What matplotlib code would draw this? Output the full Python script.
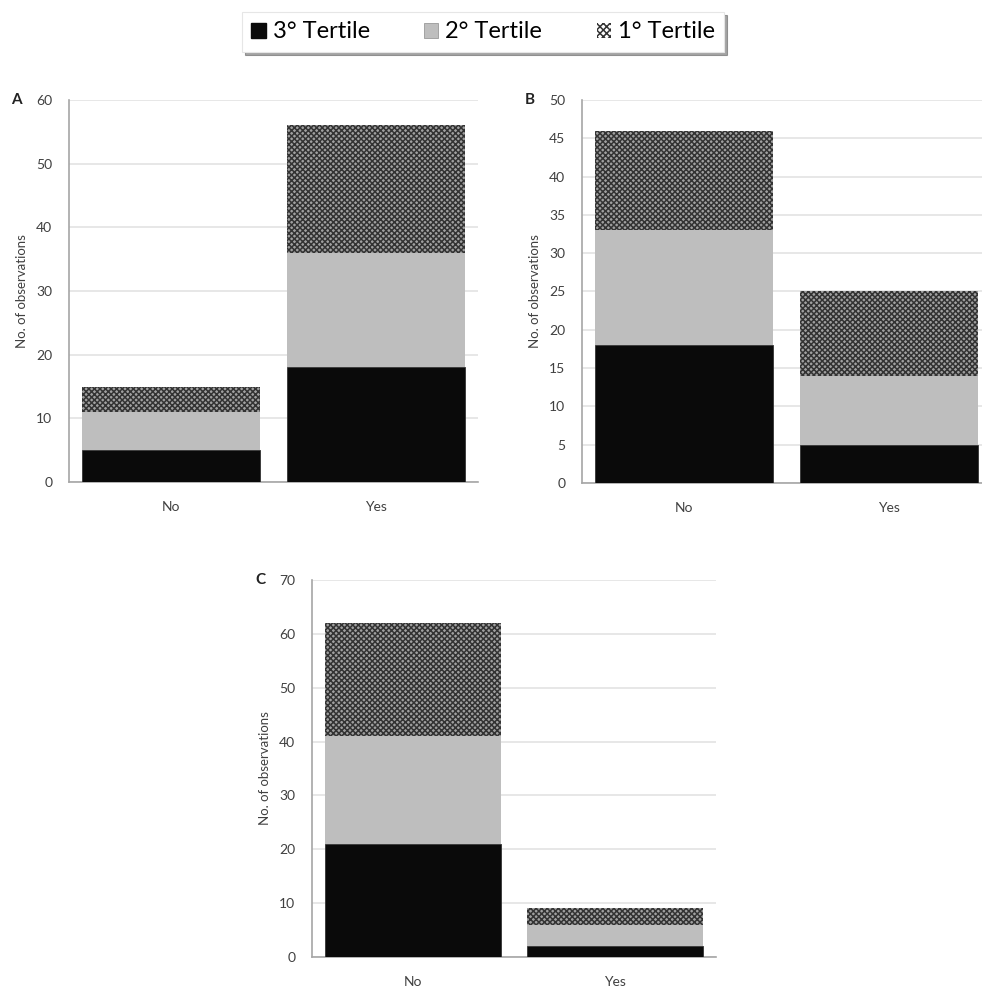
import matplotlib.pyplot as plt
import matplotlib.patches as mpatches

# --- Data ---
categories = ["No", "Yes"]

# panel A
a_t3 = [5, 18]
a_t2 = [6, 18]
a_t1 = [4, 20]

# panel B
b_t3 = [18, 5]
b_t2 = [15, 9]
b_t1 = [13, 11]

# panel C
c_t3 = [21, 2]
c_t2 = [20, 4]
c_t1 = [21, 3]

series_labels = ["3° Tertile", "2° Tertile", "1° Tertile"]

# --- Style ---
plt.rcParams["font.family"] = ["Lato", "DejaVu Sans"]
plt.rcParams["hatch.linewidth"] = 1.1

BLACK = "#0a0a0a"
GRAY = "#bebebe"
HATCH_FACE = "#a0a0a0"
HATCH_EDGE = "#333333"
GRID = "#e3e3e3"
AXIS = "#a6a6a6"
TICK = "#404040"

fig = plt.figure(figsize=(9.82, 9.93), dpi=100)


def draw_panel(rect, t3, t2, t1, ymax, ystep, letter):
    ax = fig.add_axes(rect)
    x = list(range(len(categories)))
    w = 0.87
    ax.bar(x, t3, width=w, color=BLACK, edgecolor="#333333", linewidth=0.6, zorder=3)
    ax.bar(x, t2, width=w, bottom=t3, color=GRAY, linewidth=0, zorder=3)
    base = [p + q for p, q in zip(t3, t2)]
    ax.bar(x, t1, width=w, bottom=base, color=HATCH_FACE, edgecolor=HATCH_EDGE,
           hatch="xxxxxx", linewidth=0, zorder=3)

    ax.set_xlim(-0.5, 1.5)
    ax.set_ylim(0, ymax)
    ax.set_yticks(range(0, ymax + 1, ystep))
    ax.set_xticks(x)
    ax.set_xticklabels(categories)
    ax.yaxis.grid(True, color=GRID, linewidth=1.2, zorder=0)
    ax.set_axisbelow(True)
    for s in ["top", "right"]:
        ax.spines[s].set_visible(False)
    ax.spines["left"].set_color(AXIS)
    ax.spines["bottom"].set_color(AXIS)
    ax.spines["left"].set_linewidth(1.2)
    ax.spines["bottom"].set_linewidth(1.2)
    ax.tick_params(axis="both", length=0, colors=TICK, labelsize=10)
    ax.tick_params(axis="y", pad=12)
    ax.tick_params(axis="x", pad=14)
    ax.set_ylabel("No. of observations", fontsize=9.5, color=TICK, labelpad=6)
    ax.text(-0.115, 1.0, letter, transform=ax.transAxes, fontsize=11,
            fontweight="bold", color="#222222", ha="right", va="center")
    return ax


draw_panel([0.0703, 0.5146, 0.4165, 0.3847], a_t3, a_t2, a_t1, 60, 10, "A")
draw_panel([0.5927, 0.5136, 0.4165, 0.3857], b_t3, b_t2, b_t1, 50, 5, "B")
draw_panel([0.3177, 0.0363, 0.4114, 0.3796], c_t3, c_t2, c_t1, 70, 10, "C")

# Legend
handles = [
    mpatches.Patch(facecolor=BLACK, edgecolor=BLACK, label=series_labels[0]),
    mpatches.Patch(facecolor=GRAY, edgecolor="#999999", linewidth=0.6, label=series_labels[1]),
    mpatches.Patch(facecolor="white", edgecolor=HATCH_EDGE, hatch="xxxxx",
                   linewidth=0, label=series_labels[2]),
]
leg = fig.legend(handles=handles, loc="upper center", bbox_to_anchor=(0.492, 0.995),
                 ncol=3, fontsize=17, frameon=True, fancybox=False, shadow=True,
                 handlelength=0.6, handleheight=0.6, handletextpad=0.3,
                 columnspacing=2.3, borderpad=0.4, borderaxespad=0.3)
leg.get_frame().set_edgecolor("#e6e6e6")
leg.get_frame().set_linewidth(0.8)

fig.savefig("out.png", dpi=100, facecolor="white")
